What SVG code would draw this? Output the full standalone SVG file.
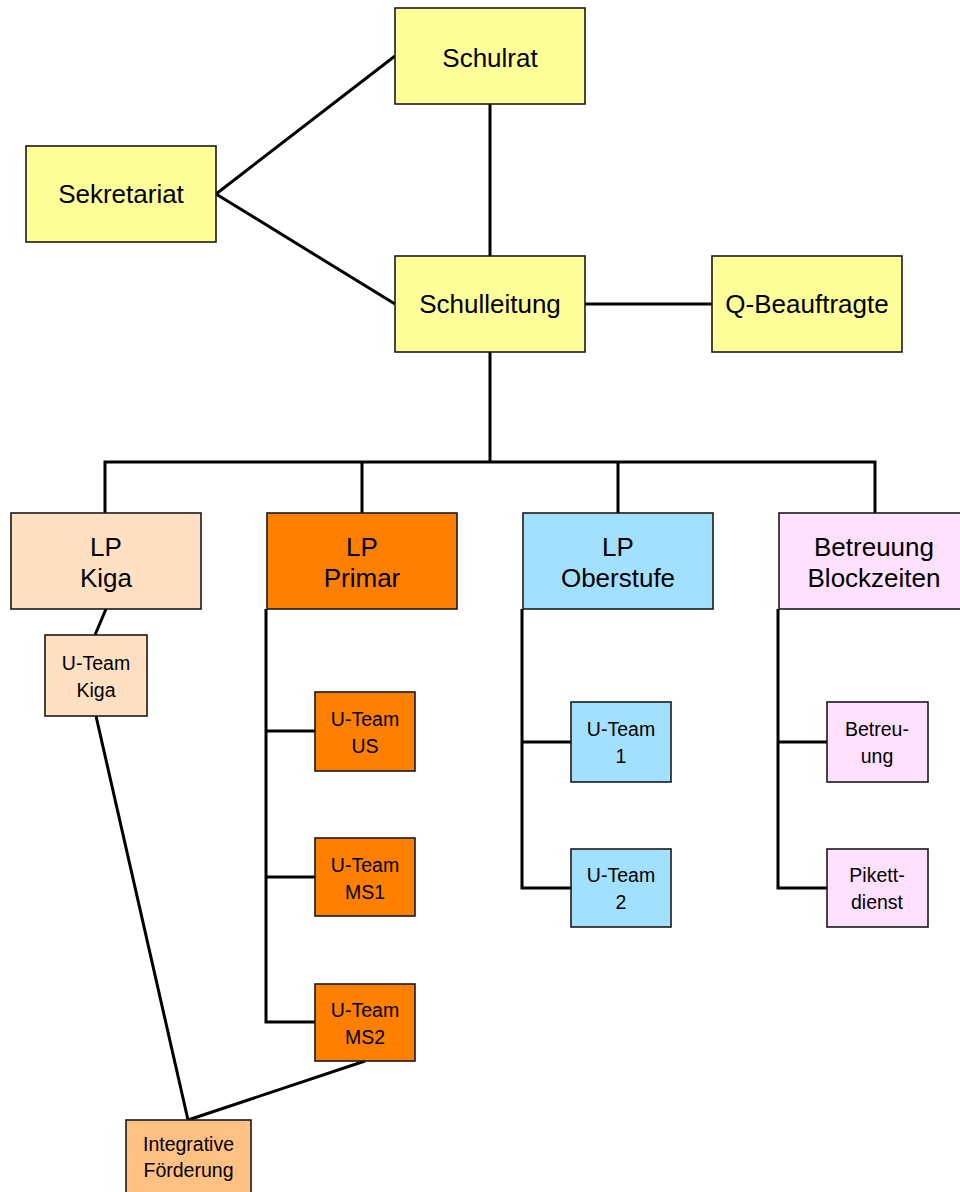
<svg xmlns="http://www.w3.org/2000/svg" width="960" height="1192" viewBox="0 0 960 1192">
<style>
.box{stroke:#1a1a1a;stroke-width:1.6}
.y{fill:#FFFF99}.k{fill:#FFE0C2}.p{fill:#FF8000}.o{fill:#A2E0FF}.b{fill:#FFE0FF}.i{fill:#FFC183}
text{font-family:"Liberation Sans",Arial,sans-serif;fill:#000;text-anchor:middle}
.t1{font-size:26px}.t3{font-size:19.5px}
.c{stroke:#000;stroke-width:3;fill:none;stroke-linejoin:miter}
</style>
<rect width="960" height="1192" fill="#fff"/>
<g id="connectors">
<line class="c" x1="216" y1="194" x2="395" y2="56"/>
<line class="c" x1="216" y1="194" x2="395" y2="304"/>
<line class="c" x1="490" y1="104" x2="490" y2="256"/>
<line class="c" x1="585" y1="304" x2="712" y2="304"/>
<line class="c" x1="490" y1="352" x2="490" y2="462"/>
<polyline class="c" points="105,513 105,462 875,462 875,513"/>
<line class="c" x1="362" y1="462" x2="362" y2="513"/>
<line class="c" x1="618" y1="462" x2="618" y2="513"/>
<line class="c" x1="106" y1="609" x2="95" y2="635"/>
<polyline class="c" points="266,609 266,1022 315,1022"/>
<line class="c" x1="266" y1="731" x2="315" y2="731"/>
<line class="c" x1="266" y1="877" x2="315" y2="877"/>
<polyline class="c" points="522,609 522,888 571,888"/>
<line class="c" x1="522" y1="742" x2="571" y2="742"/>
<polyline class="c" points="778,609 778,888 827,888"/>
<line class="c" x1="778" y1="742" x2="827" y2="742"/>
<line class="c" x1="96" y1="716" x2="188" y2="1120"/>
<line class="c" x1="365" y1="1061" x2="188" y2="1120"/>
</g>
<g id="schulrat"><rect class="box y" x="395" y="8" width="190" height="96"/><text class="t1" x="490" y="67">Schulrat</text></g>
<g id="sekretariat"><rect class="box y" x="26" y="146" width="190" height="96"/><text class="t1" x="121" y="203">Sekretariat</text></g>
<g id="schulleitung"><rect class="box y" x="395" y="256" width="190" height="96"/><text class="t1" x="490" y="313">Schulleitung</text></g>
<g id="q-beauftragte"><rect class="box y" x="712" y="256" width="190" height="96"/><text class="t1" x="807" y="313">Q-Beauftragte</text></g>
<g id="lp-kiga"><rect class="box k" x="11" y="513" width="190" height="96"/><text class="t1" x="106" y="556">LP</text><text class="t1" x="106" y="587">Kiga</text></g>
<g id="lp-primar"><rect class="box p" x="267" y="513" width="190" height="96"/><text class="t1" x="362" y="556">LP</text><text class="t1" x="362" y="587">Primar</text></g>
<g id="lp-oberstufe"><rect class="box o" x="523" y="513" width="190" height="96"/><text class="t1" x="618" y="556">LP</text><text class="t1" x="618" y="587">Oberstufe</text></g>
<g id="betreuung-blockzeiten"><rect class="box b" x="779" y="513" width="190" height="96"/><text class="t1" x="874" y="556">Betreuung</text><text class="t1" x="874" y="587">Blockzeiten</text></g>
<g id="u-team-kiga"><rect class="box k" x="45" y="635" width="102" height="81"/><text class="t3" x="96" y="670">U-Team</text><text class="t3" x="96" y="697">Kiga</text></g>
<g id="u-team-us"><rect class="box p" x="315" y="692" width="100" height="79"/><text class="t3" x="365" y="726">U-Team</text><text class="t3" x="365" y="753">US</text></g>
<g id="u-team-ms1"><rect class="box p" x="315" y="838" width="100" height="78"/><text class="t3" x="365" y="872">U-Team</text><text class="t3" x="365" y="899">MS1</text></g>
<g id="u-team-ms2"><rect class="box p" x="315" y="984" width="100" height="77"/><text class="t3" x="365" y="1017">U-Team</text><text class="t3" x="365" y="1044">MS2</text></g>
<g id="u-team-1"><rect class="box o" x="571" y="702" width="100" height="80"/><text class="t3" x="621" y="736">U-Team</text><text class="t3" x="621" y="763">1</text></g>
<g id="u-team-2"><rect class="box o" x="571" y="849" width="100" height="78"/><text class="t3" x="621" y="882">U-Team</text><text class="t3" x="621" y="909">2</text></g>
<g id="betreu-ung"><rect class="box b" x="827" y="702" width="101" height="80"/><text class="t3" x="877" y="736">Betreu-</text><text class="t3" x="877" y="763">ung</text></g>
<g id="pikettdienst"><rect class="box b" x="827" y="849" width="101" height="78"/><text class="t3" x="877" y="882">Pikett-</text><text class="t3" x="877" y="909">dienst</text></g>
<g id="integrative-foerderung"><rect class="box i" x="126" y="1120" width="125" height="80"/><text class="t3" x="188.5" y="1151">Integrative</text><text class="t3" x="188.5" y="1177">Förderung</text></g>
</svg>
